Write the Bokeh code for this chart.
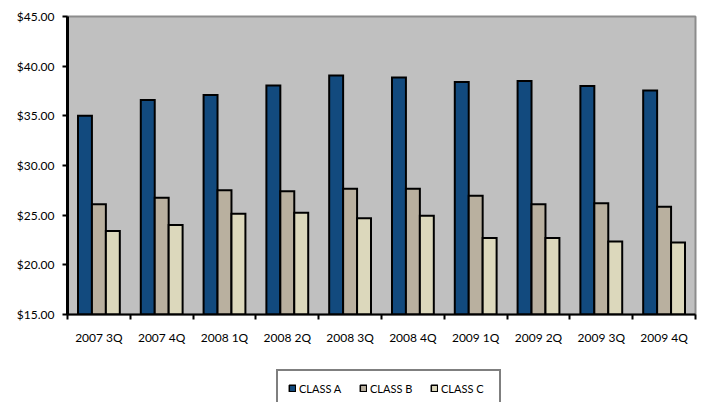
from bokeh.plotting import figure
from bokeh.models import (ColumnDataSource, Range1d, FixedTicker, NumeralTickFormatter,
                          Legend, LegendItem)
from bokeh.layouts import column
from bokeh.transform import dodge
from bokeh.embed import file_html
from bokeh.resources import INLINE

# Quarterly values per share class
quarters = ["2007 3Q", "2007 4Q", "2008 1Q", "2008 2Q", "2008 3Q",
            "2008 4Q", "2009 1Q", "2009 2Q", "2009 3Q", "2009 4Q"]
class_a = [35.0, 36.6, 37.1, 38.05, 39.05, 38.85, 38.4, 38.5, 38.0, 37.55]
class_b = [26.1, 26.75, 27.5, 27.4, 27.65, 27.65, 26.95, 26.1, 26.2, 25.85]
class_c = [23.4, 24.0, 25.15, 25.25, 24.7, 24.95, 22.7, 22.7, 22.35, 22.25]
series_names = ["CLASS A", "CLASS B", "CLASS C"]
y_ticks = [15, 20, 25, 30, 35, 40, 45]

FONT = "Lato"
COLORS = ["#124A7E", "#B9B09F", "#DCD8BC"]
BAR_W = 0.222
n = len(quarters)
centers = [i + 0.5 for i in range(n)]
series = list(zip(["a", "b", "c"], [-BAR_W, 0.0, BAR_W], COLORS))

src = ColumnDataSource(dict(x=centers, a=class_a, b=class_b, c=class_c))

# ---- main chart ----
p = figure(width=704, height=350, output_backend="svg", toolbar_location=None,
           x_range=Range1d(0, n), y_range=Range1d(15, 45),
           min_border_left=67, min_border_right=9, min_border_top=16,
           min_border_bottom=36)

p.background_fill_color = "#C0C0C0"
p.border_fill_color = "white"
p.outline_line_color = "#8C8C8C"
p.outline_line_width = 2
p.grid.visible = False

for field, off, col in series:
    p.vbar(x=dodge("x", off, range=p.x_range), top=field, bottom=15, width=BAR_W,
           source=src, fill_color=col, line_color="black", line_width=2,
           line_join="miter")

# y axis
ya = p.yaxis[0]
ya.ticker = FixedTicker(ticks=y_ticks, minor_ticks=[])
ya.formatter = NumeralTickFormatter(format="$0.00")
ya.axis_line_color = "black"
ya.axis_line_width = 3
ya.major_tick_line_color = "black"
ya.major_tick_line_width = 2
ya.major_tick_out = 5
ya.major_tick_in = 0
ya.minor_tick_line_color = None
ya.major_label_standoff = 8
ya.major_label_text_font = FONT
ya.major_label_text_font_size = "12px"
ya.major_label_text_color = "black"

# x axis: labels at category centres, tick marks on category boundaries
xa = p.xaxis[0]
xa.ticker = FixedTicker(ticks=centers, minor_ticks=list(range(n + 1)))
xa.major_label_overrides = {c: q for c, q in zip(centers, quarters)}
xa.axis_line_color = "black"
xa.axis_line_width = 2
xa.major_tick_line_color = None
xa.major_tick_out = 0
xa.major_tick_in = 0
xa.minor_tick_line_color = "black"
xa.minor_tick_line_width = 2
xa.minor_tick_out = 5
xa.minor_tick_in = 0
xa.major_label_standoff = 10
xa.major_label_text_font = FONT
xa.major_label_text_font_size = "12px"
xa.major_label_text_color = "black"

# ---- legend strip (its frame is aligned with the chart's frame) ----
leg = figure(width=704, height=52, output_backend="svg", toolbar_location=None,
             x_range=Range1d(0, n), y_range=Range1d(15, 45),
             x_axis_location=None, y_axis_location=None, min_border=0)
leg.outline_line_color = None
leg.grid.visible = False

# hidden copies of the series bars; they only supply the legend swatches
swatches = []
for field, off, col in series:
    r = leg.vbar(x=dodge("x", off, range=leg.x_range), top=field, bottom=15,
                 width=BAR_W, source=src, fill_color=col, line_color="black",
                 line_width=1.5)
    r.visible = False
    swatches.append(r)

legend = Legend(items=[LegendItem(label=name, renderers=[r])
                       for name, r in zip(series_names, swatches)],
                orientation="horizontal", location=(209, -5))
legend.click_policy = "none"
legend.inactive_fill_alpha = 0
legend.glyph_width = 8
legend.glyph_height = 8
legend.label_standoff = 3
legend.label_width = 48
legend.label_height = 14
legend.spacing = 12
legend.padding = 10
legend.margin = 0
legend.label_text_font = FONT
legend.label_text_font_size = "11px"
legend.label_text_color = "black"
legend.border_line_color = "black"
legend.border_line_width = 2
legend.background_fill_color = "white"
legend.background_fill_alpha = 1
leg.add_layout(legend)

open("out.html", "w").write(file_html(column(p, leg, spacing=0), INLINE))
